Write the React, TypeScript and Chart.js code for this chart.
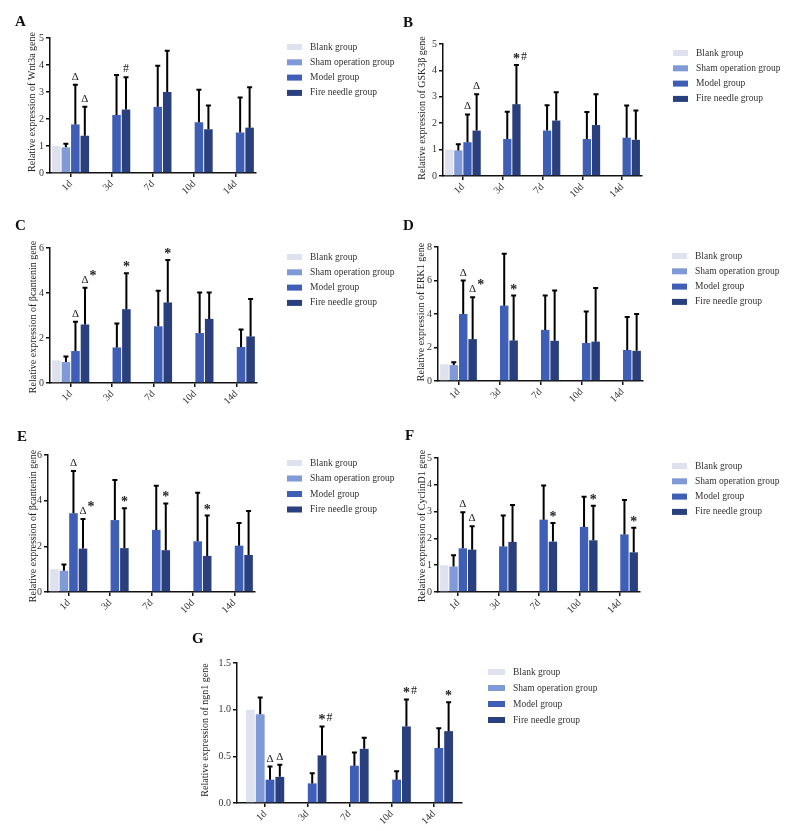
import React, { useEffect, useRef } from "react";
import { Chart, registerables } from "chart.js";

Chart.register(...registerables);

const FONT = '"Liberation Serif", "Times New Roman", serif';
const W = 786;
const H = 831;

const days = ["1d", "3d", "7d", "10d", "14d"];
const groups = ["Blank group", "Sham operation group", "Model group", "Fire needle group"];
const groupColors = ["#dfe1ee", "#7f9ad6", "#3e5fb5", "#2a3f7e"];

// ---- A: Wnt3a ----
const wnt3aMean = [
  [1.0, null, null, null, null],
  [0.95, null, null, null, null],
  [1.8, 2.15, 2.45, 1.88, 1.5],
  [1.38, 2.35, 3.0, 1.62, 1.68],
];
const wnt3aTop = [
  [null, null, null, null, null],
  [1.08, null, null, null, null],
  [3.27, 3.63, 3.97, 3.08, 2.8],
  [2.45, 3.55, 4.53, 2.5, 3.18],
];
const wnt3aMarks = [[2, 0, "Δ"], [3, 0, "Δ"], [3, 1, "#"]];

// ---- B: GSK3β ----
const gsk3bMean = [
  [1.0, null, null, null, null],
  [0.97, null, null, null, null],
  [1.28, 1.4, 1.72, 1.4, 1.45],
  [1.72, 2.72, 2.1, 1.93, 1.37],
];
const gsk3bTop = [
  [null, null, null, null, null],
  [1.2, null, null, null, null],
  [2.33, 2.43, 2.68, 2.42, 2.67],
  [3.1, 4.2, 3.17, 3.1, 2.48],
];
const gsk3bMarks = [[2, 0, "Δ"], [3, 0, "Δ"], [3, 1, "*#"]];

// ---- C: βcantenin ----
const bcatCMean = [
  [1.0, null, null, null, null],
  [0.93, null, null, null, null],
  [1.42, 1.58, 2.52, 2.22, 1.6],
  [2.6, 3.28, 3.58, 2.85, 2.07],
];
const bcatCTop = [
  [null, null, null, null, null],
  [1.18, null, null, null, null],
  [2.72, 2.65, 4.1, 4.02, 2.38],
  [4.23, 4.88, 5.47, 4.02, 3.73],
];
const bcatCMarks = [[2, 0, "Δ"], [3, 0, "Δ*"], [3, 1, "*"], [3, 2, "*"]];

// ---- D: ERK1 ----
const erk1Mean = [
  [1.0, null, null, null, null],
  [0.95, null, null, null, null],
  [4.0, 4.5, 3.05, 2.27, 1.85],
  [2.5, 2.42, 2.4, 2.35, 1.8],
];
const erk1Top = [
  [null, null, null, null, null],
  [1.12, null, null, null, null],
  [6.0, 7.6, 5.1, 4.15, 3.82],
  [5.0, 5.1, 5.4, 5.55, 4.0],
];
const erk1Marks = [[2, 0, "Δ"], [3, 0, "Δ*"], [3, 1, "*"]];

// ---- E: βcantenin ----
const bcatEMean = [
  [1.0, null, null, null, null],
  [0.93, null, null, null, null],
  [3.45, 3.15, 2.72, 2.22, 2.03],
  [1.9, 1.92, 1.83, 1.58, 1.62],
];
const bcatETop = [
  [null, null, null, null, null],
  [1.2, null, null, null, null],
  [5.3, 4.9, 4.65, 4.35, 3.02],
  [3.2, 3.67, 3.88, 3.35, 3.55],
];
const bcatEMarks = [[2, 0, "Δ"], [3, 0, "Δ*"], [3, 1, "*"], [3, 2, "*"], [3, 3, "*"]];

// ---- F: CyclinD1 ----
const cyclinMean = [
  [1.0, null, null, null, null],
  [0.95, null, null, null, null],
  [1.63, 1.7, 2.7, 2.43, 2.15],
  [1.58, 1.87, 1.88, 1.93, 1.48],
];
const cyclinTop = [
  [null, null, null, null, null],
  [1.37, null, null, null, null],
  [2.98, 2.85, 3.97, 3.55, 3.43],
  [2.45, 3.25, 2.57, 3.22, 2.4],
];
const cyclinMarks = [[2, 0, "Δ"], [3, 0, "Δ"], [3, 2, "*"], [3, 3, "*"], [3, 4, "*"]];

// ---- G: ngn1 ----
const ngn1Mean = [
  [1.0, null, null, null, null],
  [0.95, null, null, null, null],
  [0.25, 0.21, 0.4, 0.25, 0.59],
  [0.28, 0.51, 0.58, 0.82, 0.77],
];
const ngn1Top = [
  [null, null, null, null, null],
  [1.13, null, null, null, null],
  [0.39, 0.32, 0.54, 0.34, 0.8],
  [0.41, 0.82, 0.7, 1.11, 1.08],
];
const ngn1Marks = [[2, 0, "Δ"], [3, 0, "Δ"], [3, 1, "*#"], [3, 3, "*#"], [3, 4, "*"]];

type Panel = {
  letter: string;
  letterPos: [number, number];
  mean: (number | null)[][];
  top: (number | null)[][];
  marks: (number | string)[][];
  yMax: number;
  yStep: number;
  decimals: number;
  yTitle: string;
  titlePos: [number, number];
  area: [number, number, number, number];
  legend: [number, number, number, number, number];
  inset: number;
  catPct: number;
};

const panels: Panel[] = [
  {
    letter: "A", letterPos: [15, 26], mean: wnt3aMean, top: wnt3aTop, marks: wnt3aMarks,
    yMax: 5, yStep: 1, decimals: 0, yTitle: "Relative expression of Wnt3a gene",
    titlePos: [32, 102], area: [50, 38, 256, 173], legend: [287, 47, 15.3, 23, 15], inset: 0, catPct: 0.92,
  },
  {
    letter: "B", letterPos: [403, 27], mean: gsk3bMean, top: gsk3bTop, marks: gsk3bMarks,
    yMax: 5, yStep: 1, decimals: 0, yTitle: "Relative expression of GSK3β gene",
    titlePos: [422, 108], area: [443, 44, 642, 176], legend: [673, 53, 15.3, 23, 15], inset: 0, catPct: 0.92,
  },
  {
    letter: "C", letterPos: [15, 230], mean: bcatCMean, top: bcatCTop, marks: bcatCMarks,
    yMax: 6, yStep: 2, decimals: 0, yTitle: "Relative expression of βcantenin gene",
    titlePos: [33, 317], area: [50, 248, 257, 383], legend: [287, 257, 15.3, 23, 15], inset: 0, catPct: 0.92,
  },
  {
    letter: "D", letterPos: [403, 230], mean: erk1Mean, top: erk1Top, marks: erk1Marks,
    yMax: 8, yStep: 2, decimals: 0, yTitle: "Relative expression of ERK1 gene",
    titlePos: [421, 312], area: [438, 247, 643, 381], legend: [672, 256, 15.3, 23, 15], inset: 0, catPct: 0.92,
  },
  {
    letter: "E", letterPos: [17, 441], mean: bcatEMean, top: bcatETop, marks: bcatEMarks,
    yMax: 6, yStep: 2, decimals: 0, yTitle: "Relative expression of βcantenin gene",
    titlePos: [33, 526], area: [48, 455, 255, 592], legend: [287, 463, 15.5, 23, 15], inset: 0, catPct: 0.92,
  },
  {
    letter: "F", letterPos: [405, 440], mean: cyclinMean, top: cyclinTop, marks: cyclinMarks,
    yMax: 5, yStep: 1, decimals: 0, yTitle: "Relative expression of CyclinD1 gene",
    titlePos: [422, 526], area: [438, 458, 640, 592], legend: [672, 466, 15.3, 23, 15], inset: 0, catPct: 0.92,
  },
  {
    letter: "G", letterPos: [192, 643], mean: ngn1Mean, top: ngn1Top, marks: ngn1Marks,
    yMax: 1.5, yStep: 0.5, decimals: 1, yTitle: "Relative expression of ngn1 gene",
    titlePos: [205, 730], area: [237, 663, 462, 803], legend: [488, 672, 16, 25, 17], inset: 7, catPct: 0.93,
  },
];

function drawMark(ctx: CanvasRenderingContext2D, text: string, x: number, y: number) {
  const fontFor = (ch: string) =>
    ch === "*" ? `bold 14px ${FONT}` : ch === "#" ? `12px ${FONT}` : `11px ${FONT}`;
  const chars = Array.from(text);
  const widths = chars.map((ch) => {
    ctx.font = fontFor(ch);
    return ctx.measureText(ch).width;
  });
  ctx.textAlign = "center";
  ctx.textBaseline = "alphabetic";
  ctx.fillStyle = "#222";
  let cx = x;
  chars.forEach((ch, i) => {
    if (i > 0) cx += widths[i - 1] / 2 + widths[i] / 2 + 1;
    ctx.font = fontFor(ch);
    let by = y - 3;
    if (ch === "*") by = i > 0 && chars[0] === "Δ" ? y - 6 : y;
    ctx.fillText(ch, cx, by);
  });
}

function makeExtras(panel: Panel) {
  return {
    id: "extras" + panel.letter,
    afterLayout(chart: any) {
      if (panel.inset) {
        const xs = chart.scales.x;
        xs._startPixel += panel.inset;
        xs._endPixel -= panel.inset;
        xs._length = xs._endPixel - xs._startPixel;
      }
    },
    afterDatasetsDraw(chart: any) {
      const ctx: CanvasRenderingContext2D = chart.ctx;
      const ys = chart.scales.y;
      ctx.save();
      ctx.strokeStyle = "#000";
      ctx.lineWidth = 2;
      panel.top.forEach((series, si) => {
        const meta = chart.getDatasetMeta(si);
        series.forEach((t, di) => {
          if (t == null) return;
          const bar = meta.data[di];
          if (!bar) return;
          const x = bar.x;
          const y0 = bar.y;
          const y1 = ys.getPixelForValue(t);
          ctx.beginPath();
          ctx.moveTo(x, y0);
          ctx.lineTo(x, y1);
          ctx.moveTo(x - 2.5, y1);
          ctx.lineTo(x + 2.5, y1);
          ctx.stroke();
        });
      });
      panel.marks.forEach((m) => {
        const si = m[0] as number;
        const di = m[1] as number;
        const txt = m[2] as string;
        const bar = chart.getDatasetMeta(si).data[di];
        const t = panel.top[si][di] as number;
        drawMark(ctx, txt, bar.x, ys.getPixelForValue(t) - 2);
      });
      ctx.restore();
    },
    afterDraw(chart: any) {
      const ctx: CanvasRenderingContext2D = chart.ctx;
      ctx.save();
      // panel letter
      ctx.fillStyle = "#111";
      ctx.font = `bold 15px ${FONT}`;
      ctx.textAlign = "left";
      ctx.textBaseline = "alphabetic";
      ctx.fillText(panel.letter, panel.letterPos[0], panel.letterPos[1]);
      // y title
      ctx.save();
      ctx.translate(panel.titlePos[0], panel.titlePos[1]);
      ctx.rotate(-Math.PI / 2);
      ctx.font = `10px ${FONT}`;
      ctx.fillStyle = "#222";
      ctx.textAlign = "center";
      ctx.textBaseline = "middle";
      ctx.fillText(panel.yTitle, 0, 0);
      ctx.restore();
      // legend
      const [lx, ly, gap, off, bw] = panel.legend;
      groups.forEach((g, i) => {
        const cy = ly + i * gap;
        ctx.fillStyle = groupColors[i];
        ctx.fillRect(lx, cy - 3, bw, 6);
        ctx.fillStyle = "#333";
        ctx.font = `9.5px ${FONT}`;
        ctx.textAlign = "left";
        ctx.textBaseline = "middle";
        ctx.fillText(g, lx + off, cy);
      });
      ctx.restore();
    },
  };
}

function PanelChart({ panel }: { panel: Panel }) {
  const ref = useRef<HTMLCanvasElement | null>(null);
  useEffect(() => {
    const [L, T, R, B] = panel.area;
    const yW = 40;
    const xH = 25;
    const axisGrid = {
      display: true,
      drawOnChartArea: false,
      drawTicks: true,
      tickLength: 4,
      color: "#111",
      lineWidth: 1.5,
    };
    const chart = new Chart(ref.current as HTMLCanvasElement, {
      type: "bar",
      data: {
        labels: days,
        datasets: groups.map((g, i) => ({
          label: g,
          data: panel.mean[i] as any,
          backgroundColor: groupColors[i],
          borderWidth: 0,
          barPercentage: 0.9,
          categoryPercentage: panel.catPct,
        })),
      },
      options: {
        responsive: false,
        animation: false,
        devicePixelRatio: 1,
        events: [],
        layout: { padding: { left: L - yW, top: T, right: W - R, bottom: H - B - xH } },
        plugins: { legend: { display: false }, tooltip: { enabled: false }, title: { display: false } },
        scales: {
          x: {
            type: "category",
            offset: true,
            grid: { ...axisGrid, offset: false },
            border: { display: true, color: "#111", width: 1.5 },
            ticks: {
              minRotation: 45,
              maxRotation: 45,
              autoSkip: false,
              font: { family: FONT, size: 10 },
              color: "#333",
              padding: 1,
            },
            afterFit: (s: any) => {
              s.height = xH;
            },
          },
          y: {
            min: 0,
            max: panel.yMax,
            grid: axisGrid,
            border: { display: true, color: "#111", width: 1.5 },
            ticks: {
              stepSize: panel.yStep,
              font: { family: FONT, size: 10 },
              color: "#333",
              padding: 2,
              callback: (v: any) => Number(v).toFixed(panel.decimals),
            },
            afterFit: (s: any) => {
              s.width = yW;
            },
          },
        },
      } as any,
      plugins: [makeExtras(panel)],
    });
    return () => chart.destroy();
  }, [panel]);
  return (
    <canvas
      ref={ref}
      width={W}
      height={H}
      style={{ position: "absolute", left: 0, top: 0, width: W, height: H }}
    />
  );
}

export default function App() {
  return (
    <div style={{ position: "absolute", left: 0, top: 0, width: W, height: H, background: "#fff" }}>
      {panels.map((p) => (
        <PanelChart key={p.letter} panel={p} />
      ))}
    </div>
  );
}
